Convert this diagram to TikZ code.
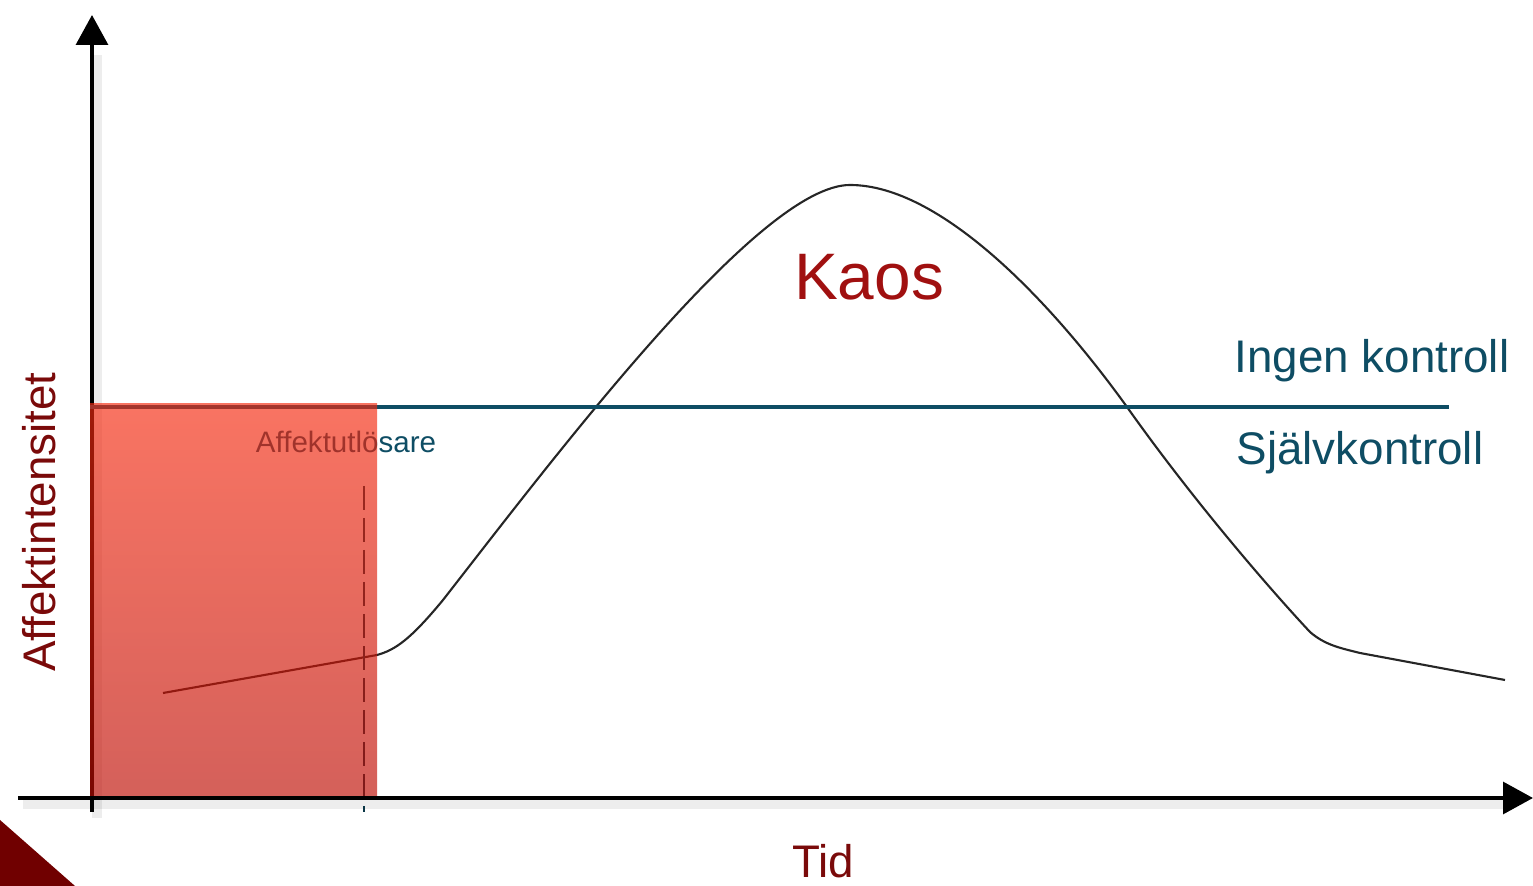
\documentclass[tikz,border=0pt]{standalone}
\usepackage{fontspec}
\setmainfont{Liberation Sans}
\usetikzlibrary{arrows.meta}

\definecolor{kaosred}{HTML}{A01010}
\definecolor{labelred}{HTML}{7A0A0A}
\definecolor{ctrlblue}{HTML}{0E4D64}
\definecolor{cornerred}{HTML}{700000}
\definecolor{boxtop}{RGB}{245,41,14}
\definecolor{boxbot}{RGB}{189,11,2}

\begin{document}
\begin{tikzpicture}[x=0.01cm, y=-0.01cm,
  axisline/.style={line width=1.14pt, -{Triangle[length=8.5pt, width=9pt]}},
  axisshadow/.style={line width=3pt, black, opacity=0.07},
  lbl/.style={inner sep=0pt, anchor=base, font=\fontsize{13}{15}\selectfont}]
  \useasboundingbox (0,0) rectangle (1533,886);
  % Corner triangle
  \fill[cornerred] (0,820) -- (75,886) -- (0,886) -- cycle;
  % Axis end points
  \coordinate (ybot) at (92,812);
  \coordinate (ytop) at (92,15);
  \coordinate (xleft) at (18,798);
  \coordinate (xright) at (1533,798);
  % Axis shadows
  \draw[axisshadow] ([shift={(5,6)}]ybot) -- ([shift={(5,40)}]ytop);
  \draw[axisshadow] ([shift={(5,6)}]xleft) -- ([shift={(-20,6)}]xright);
  % Y axis (under the box)
  \draw[axisline] (ybot) -- (ytop);
  % Curve
  \draw[line width=0.6pt, black!85]
    (163,693) -- (377,655)
    .. controls (395,650) and (410,640) .. (443,600)
    .. controls (560,450) and (760,185) .. (850,185)
    .. controls (940,185) and (1050,300) .. (1127,407)
    .. controls (1200,510) and (1280,600) .. (1310,632)
    .. controls (1325,645) and (1340,648) .. (1360,653)
    -- (1505,680);
  % Control threshold
  \coordinate (thrleft) at (90,407);
  \coordinate (thrright) at (1449,407);
  \draw[ctrlblue, line width=1.14pt] (thrleft) -- (thrright);
  % Trigger
  \coordinate (trigtop) at (364,486);
  \coordinate (trigbot) at (364,812);
  \draw[ctrlblue!70!black, line width=0.6pt, dash pattern=on 6.8pt off 2.3pt] (trigtop) -- (trigbot);
  \node[lbl, text=ctrlblue, font=\fontsize{8.4}{10}\selectfont] (trigger) at (346,453) {Affektutlösare};
  % Trigger box
  \shade[top color=boxtop, bottom color=boxbot, opacity=0.65] (90,404) rectangle (377,796);
  % X axis
  \draw[axisline] (xleft) -- (xright);
  % Labels
  \node[lbl, text=labelred, rotate=90] (ylabel) at (55,522) {Affektintensitet};
  \node[lbl, text=labelred] (xlabel) at (823,878) {Tid};
  \node[lbl, text=kaosred, font=\fontsize{18.7}{22}\selectfont] (kaos) at (869,300) {Kaos};
  \node[lbl, text=ctrlblue] (nocontrol) at (1372,373) {Ingen kontroll};
  \node[lbl, text=ctrlblue] (selfcontrol) at (1360,465) {Självkontroll};
\end{tikzpicture}
\end{document}
